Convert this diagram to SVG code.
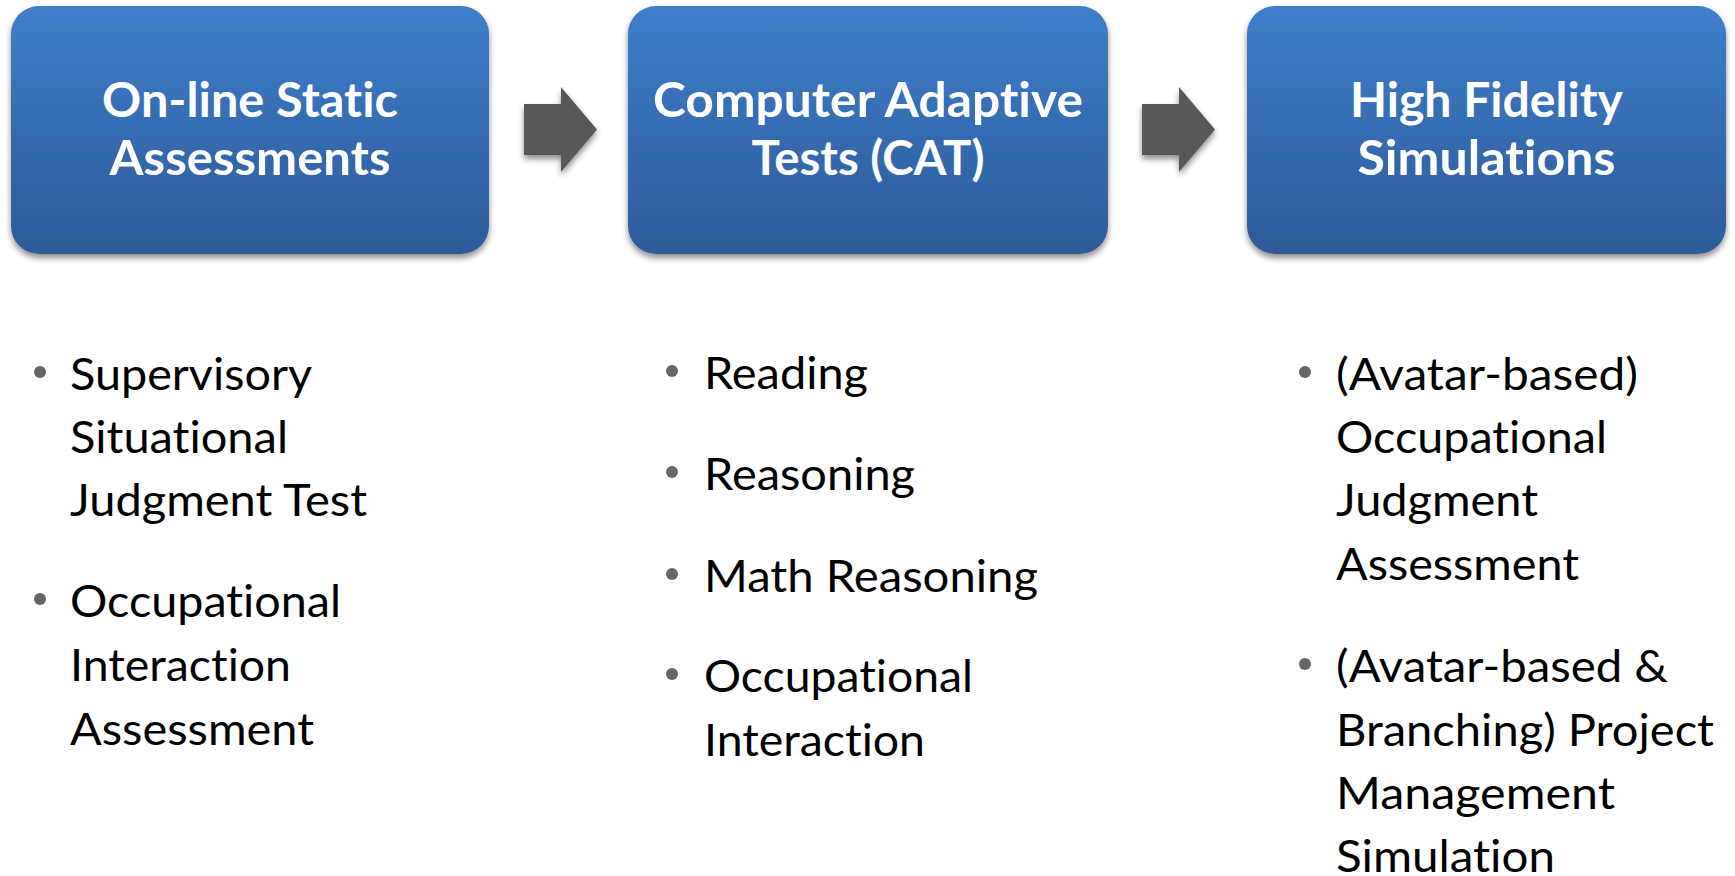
<svg xmlns="http://www.w3.org/2000/svg" width="1735" height="876" viewBox="0 0 1735 876">
  <defs>
    <linearGradient id="boxFill" x1="0" y1="0" x2="0" y2="1">
      <stop offset="0" stop-color="#3d7ecb"/>
      <stop offset="1" stop-color="#2d5b99"/>
    </linearGradient>
    <filter id="softShadow" x="-10%" y="-10%" width="120%" height="130%">
      <feGaussianBlur in="SourceAlpha" stdDeviation="3"/>
      <feOffset dx="0" dy="4" result="blur"/>
      <feComponentTransfer><feFuncA type="linear" slope="0.45"/></feComponentTransfer>
      <feMerge><feMergeNode/><feMergeNode in="SourceGraphic"/></feMerge>
    </filter>
    <path id="chevron" d="M 524 104 L 561 104 L 561 87 L 597 129.5 L 561 172 L 561 155 L 524 155 Z"/>
  </defs>
  <style>
    text { font-variant-ligatures: none; }
    .box { fill: url(#boxFill); filter: url(#softShadow); }
    .title { font-family: Lato, "Open Sans", "Liberation Sans", sans-serif; font-weight: bold; font-size: 47px; fill: #ffffff; text-anchor: middle; }
    .item { font-family: Lato, "Open Sans", "Liberation Sans", sans-serif; font-size: 45px; fill: #000000; }
    .dot { fill: #666666; }
    .arrow { fill: #595959; filter: url(#softShadow); }
  </style>
  <rect width="1735" height="876" fill="#ffffff"/>

  <!-- stage 1 -->
  <g id="stage-static">
    <rect class="box" x="11" y="6" width="478" height="248" rx="28"/>
    <text class="title" x="250" y="117" textLength="296" lengthAdjust="spacingAndGlyphs">On-line Static</text>
    <text class="title" x="250" y="175" textLength="281" lengthAdjust="spacingAndGlyphs">Assessments</text>
  </g>

  <!-- stage 2 -->
  <g id="stage-cat">
    <rect class="box" x="628" y="6" width="480" height="248" rx="28"/>
    <text class="title" x="868" y="117" textLength="430" lengthAdjust="spacingAndGlyphs">Computer Adaptive</text>
    <text class="title" x="868" y="175" textLength="233" lengthAdjust="spacingAndGlyphs">Tests (CAT)</text>
  </g>

  <!-- stage 3 -->
  <g id="stage-sim">
    <rect class="box" x="1247" y="6" width="479" height="248" rx="28"/>
    <text class="title" x="1486.5" y="117" textLength="273" lengthAdjust="spacingAndGlyphs">High Fidelity</text>
    <text class="title" x="1486.5" y="175" textLength="258" lengthAdjust="spacingAndGlyphs">Simulations</text>
  </g>

  <!-- progression arrows -->
  <g id="connectors">
    <use href="#chevron" class="arrow"/>
    <use href="#chevron" class="arrow" transform="translate(618 0)"/>
  </g>

  <!-- stage 1 items -->
  <g id="list-static">
    <circle class="dot" cx="40" cy="372" r="6"/>
    <text class="item" x="70" y="390" textLength="242" lengthAdjust="spacingAndGlyphs">Supervisory</text>
    <text class="item" x="70" y="453" textLength="218" lengthAdjust="spacingAndGlyphs">Situational</text>
    <text class="item" x="70" y="516" textLength="297" lengthAdjust="spacingAndGlyphs">Judgment Test</text>
    <circle class="dot" cx="40" cy="599" r="6"/>
    <text class="item" x="70" y="617" textLength="271" lengthAdjust="spacingAndGlyphs">Occupational</text>
    <text class="item" x="70" y="681" textLength="221" lengthAdjust="spacingAndGlyphs">Interaction</text>
    <text class="item" x="70" y="745" textLength="244" lengthAdjust="spacingAndGlyphs">Assessment</text>
  </g>

  <!-- stage 2 items -->
  <g id="list-cat">
    <circle class="dot" cx="672" cy="371" r="6"/>
    <text class="item" x="704" y="389" textLength="164" lengthAdjust="spacingAndGlyphs">Reading</text>
    <circle class="dot" cx="672" cy="472" r="6"/>
    <text class="item" x="704" y="490" textLength="211" lengthAdjust="spacingAndGlyphs">Reasoning</text>
    <circle class="dot" cx="672" cy="574" r="6"/>
    <text class="item" x="704" y="592" textLength="334" lengthAdjust="spacingAndGlyphs">Math Reasoning</text>
    <circle class="dot" cx="672" cy="674" r="6"/>
    <text class="item" x="704" y="692" textLength="269" lengthAdjust="spacingAndGlyphs">Occupational</text>
    <text class="item" x="704" y="756" textLength="221" lengthAdjust="spacingAndGlyphs">Interaction</text>
  </g>

  <!-- stage 3 items -->
  <g id="list-sim">
    <circle class="dot" cx="1305" cy="372" r="6"/>
    <text class="item" x="1336" y="390" textLength="302" lengthAdjust="spacingAndGlyphs">(Avatar-based)</text>
    <text class="item" x="1336" y="453" textLength="271" lengthAdjust="spacingAndGlyphs">Occupational</text>
    <text class="item" x="1336" y="516" textLength="202" lengthAdjust="spacingAndGlyphs">Judgment</text>
    <text class="item" x="1336" y="580" textLength="243" lengthAdjust="spacingAndGlyphs">Assessment</text>
    <circle class="dot" cx="1305" cy="664" r="6"/>
    <text class="item" x="1336" y="682" textLength="332" lengthAdjust="spacingAndGlyphs">(Avatar-based &amp;</text>
    <text class="item" x="1336" y="746" textLength="378" lengthAdjust="spacingAndGlyphs">Branching) Project</text>
    <text class="item" x="1336" y="809" textLength="279" lengthAdjust="spacingAndGlyphs">Management</text>
    <text class="item" x="1336" y="872" textLength="219" lengthAdjust="spacingAndGlyphs">Simulation</text>
  </g>
</svg>
